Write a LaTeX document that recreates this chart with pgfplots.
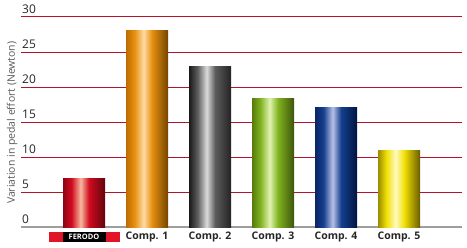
\documentclass[border=0pt]{standalone}
\usepackage{pgfplots}
\pgfplotsset{compat=1.18}
\usepackage{fontspec}
\setmainfont{Open Sans}

% cylinder-like horizontal shadings for the bars (25bp = left edge, 75bp = right edge)
\newcommand\cylshade[5]{%
  \pgfdeclarehorizontalshading{#1}{100bp}{%
    rgb(0bp)=(#2); rgb(25bp)=(#2); rgb(35bp)=(#3); rgb(46bp)=(#4);
    rgb(56bp)=(#3); rgb(75bp)=(#5); rgb(100bp)=(#5)}}
\cylshade{cylred}{0.55,0.02,0.08}{0.82,0.04,0.12}{0.97,0.72,0.62}{0.38,0.02,0.05}
\cylshade{cylorange}{0.75,0.42,0.0}{0.90,0.56,0.06}{1.0,0.86,0.64}{0.45,0.27,0.0}
\cylshade{cylgray}{0.10,0.10,0.10}{0.36,0.36,0.36}{0.86,0.86,0.86}{0.14,0.14,0.14}
\cylshade{cylgreen}{0.34,0.48,0.05}{0.50,0.70,0.12}{0.88,0.95,0.70}{0.24,0.33,0.05}
\cylshade{cylblue}{0.04,0.14,0.40}{0.08,0.25,0.56}{0.72,0.75,0.90}{0.0,0.08,0.25}
\cylshade{cylyellow}{0.60,0.55,0.0}{0.95,0.88,0.02}{1.0,0.98,0.76}{0.42,0.36,0.0}

\definecolor{gridred}{RGB}{180,20,40}
\definecolor{ferodored}{RGB}{225,20,40}

\newcommand\ferodo{{\setlength{\fboxsep}{0pt}%
  \colorbox{ferodored}{\makebox[71bp]{\colorbox{black}{\makebox[43bp]{%
  \rule[-2.2bp]{0pt}{10.5bp}\color{white}\fontsize{7.5}{8}\selectfont\bfseries FERODO}}}}}}

\begin{document}
\begin{tikzpicture}
\begin{axis}[
  scale only axis,
  width=441bp, height=210bp,
  xmin=-1, xmax=6,
  ymin=0, ymax=30,
  axis x line*=bottom,
  axis y line*=left,
  y axis line style={draw=none},
  x axis line style={-, draw=black!38, line width=2bp},
  major tick length=0pt,
  xtick={0,...,5},
  xticklabels={\ferodo, Comp. 1, Comp. 2, Comp. 3, Comp. 4, Comp. 5},
  xticklabel style={font=\bfseries\fontsize{10.5}{12}\selectfont, text=black!85, yshift=-1bp},
  ytick={0,5,...,30},
  yticklabel style={anchor=south west, inner sep=0pt, xshift=1bp, yshift=3bp,
    font=\fontsize{12}{13}\selectfont, text=black!85},
  /pgf/number format/assume math mode=true,
  ymajorgrids,
  grid style={gridred, line width=1bp},
  ylabel={Variation in pedal effort (Newton)},
  ylabel style={at={(rel axis cs:0,0.52)}, anchor=south, xshift=-5bp,
    font=\fontsize{10.5}{12}\selectfont, text=black!65},
  every axis plot/.append style={ybar, bar width=42bp, bar shift=0pt, draw=none},
  clip=false,
]
\addplot[shading=cylred] coordinates {(0,7)};
\addplot[shading=cylorange] coordinates {(1,28.1)};
\addplot[shading=cylgray] coordinates {(2,23)};
\addplot[shading=cylgreen] coordinates {(3,18.3)};
\addplot[shading=cylblue] coordinates {(4,17.1)};
\addplot[shading=cylyellow] coordinates {(5,11)};
\coordinate (sw) at (rel axis cs:0,0);
\coordinate (ne) at (rel axis cs:1,1);
\end{axis}
\pgfresetboundingbox
\path ([shift={(-21bp,-20bp)}]sw) ([shift={(5bp,17bp)}]ne);
\end{tikzpicture}
\end{document}
